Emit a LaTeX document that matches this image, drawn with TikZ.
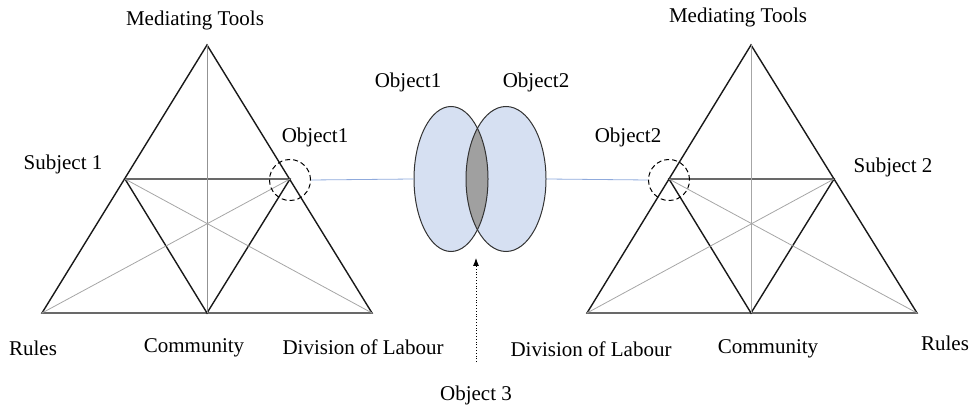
\documentclass[tikz,border=0pt]{standalone}
\usepackage{fontspec}
\setmainfont{Liberation Serif}
\usetikzlibrary{arrows.meta,positioning,shapes.geometric}

\definecolor{objblue}{HTML}{D6E0F2}
\definecolor{objgrey}{HTML}{A0A0A0}
\definecolor{linkblue}{HTML}{8FAADC}

\begin{document}
\begin{tikzpicture}[x=0.5pt,y=-0.5pt,
    lab/.style={font=\fontsize{10.5}{12}\selectfont, inner sep=0pt},
    side/.style={draw=black!90, line width=0.7pt},
    axis/.style={draw=gray!85, line width=0.5pt},
    cross/.style={draw=gray!70, line width=0.4pt},
    ring/.style={circle, draw, dash pattern=on 2.5pt off 1.5pt, line width=0.5pt, minimum size=20.5pt, inner sep=0pt},
    obj/.style={ellipse, draw=black!80, line width=0.5pt, minimum width=37pt, minimum height=72.5pt, inner sep=0pt},
    link/.style={draw=linkblue, line width=0.4pt}]
    \useasboundingbox (0,0) rectangle (973,405);

    % left activity system
    \coordinate (la) at (207,45);
    \coordinate (lbl) at (42,313);
    \coordinate (lbr) at (372,313);
    \coordinate (lbm) at (207,313);
    \coordinate (lml) at (125,179);
    \coordinate (lmr) at (290,179);
    \draw[side] (lbl) -- (la) -- (lbr) -- cycle;
    \draw[side] (lml) -- (lmr) -- (lbm) -- cycle;
    \draw[axis] (la) -- (lbm);
    \draw[cross] (lml) -- (lbr);
    \draw[cross] (lmr) -- (lbl);
    \node[ring] (c1) at (290,180) {};

    % right activity system
    \coordinate (ra) at (751,45);
    \coordinate (rbl) at (587,313);
    \coordinate (rbr) at (917,313);
    \coordinate (rbm) at (751,313);
    \coordinate (rml) at (669,179);
    \coordinate (rmr) at (834,179);
    \draw[side] (rbl) -- (ra) -- (rbr) -- cycle;
    \draw[side] (rml) -- (rmr) -- (rbm) -- cycle;
    \draw[cross] (ra) -- (rbm);
    \draw[cross] (rml) -- (rbr);
    \draw[cross] (rmr) -- (rbl);
    \node[ring] (c2) at (669,180) {};

    % shared object
    \fill[objblue] (451,179) ellipse [x radius=37, y radius=72.5];
    \fill[objblue] (506,179) ellipse [x radius=40, y radius=72.5];
    \begin{scope}
        \clip (451,179) ellipse [x radius=37, y radius=72.5];
        \fill[objgrey] (506,179) ellipse [x radius=40, y radius=72.5];
    \end{scope}
    \node[obj] (o1) at (451,179) {};
    \node[obj, minimum width=40pt] (o2) at (506,179) {};

    \draw[link] (c1.east) -- (o1.west);
    \draw[link] (o2.east) -- (c2.west);

    \coordinate (tail) at (476,362);
    \coordinate (tip) at (476,258);
    \draw[densely dotted, line width=0.4pt, -{Latex[length=4pt,width=3pt]}] (tail) -- (tip);

    % labels
    \node[lab] (lmt) at (195,20) {Mediating Tools};
    \node[lab] (ls) at (63,164) {Subject 1};
    \node[lab] (lo) at (315,137) {Object1};
    \node[lab] (lr) at (33,348) {Rules};
    \node[lab] (lc) at (194,348) {Community};
    \node[lab] (ld) at (363,347) {Division of Labour};

    \node[lab] (o1l) at (408,82) {Object1};
    \node[lab] (o2l) at (536,82) {Object2};
    \node[lab] (o3l) at (476,395) {Object 3};

    \node[lab] (rmt) at (738,17) {Mediating Tools};
    \node[lab] (ro) at (628,137) {Object2};
    \node[lab] (rs) at (893,167) {Subject 2};
    \node[lab] (rd) at (591,349) {Division of Labour};
    \node[lab] (rc) at (768,349) {Community};
    \node[lab] (rr) at (945,343) {Rules};
\end{tikzpicture}
\end{document}
